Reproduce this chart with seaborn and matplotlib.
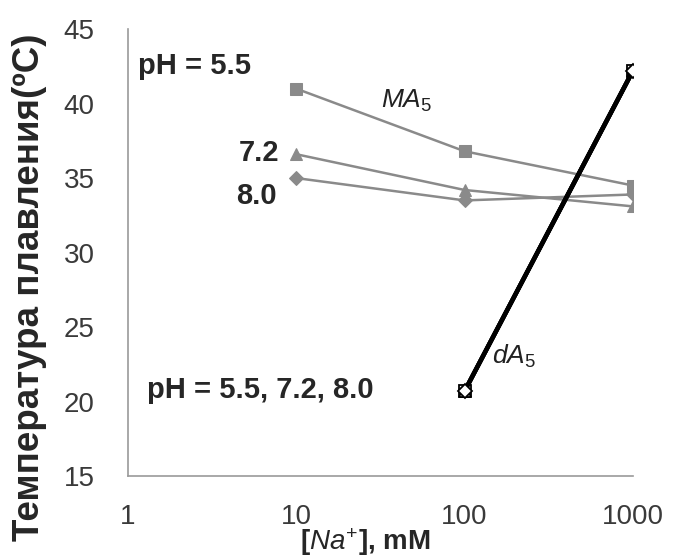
import numpy as np
import pandas as pd
import matplotlib
matplotlib.use("Agg")
import matplotlib.pyplot as plt
import seaborn as sns

# --- Data ---
na_conc = [10, 100, 1000]
ma5_ph55 = [41.0, 36.8, 34.5]
ma5_ph72 = [36.6, 34.2, 33.1]
ma5_ph80 = [35.0, 33.5, 33.9]

da5_conc = [100, 1000]
da5_ph55 = [20.7, 42.2]
da5_ph72 = [20.7, 42.2]
da5_ph80 = [20.7, 42.2]

x_ticks = [1, 10, 100, 1000]
x_ticklabels = ["1", "10", "100", "1000"]
y_ticks = [15, 20, 25, 30, 35, 40, 45]

# --- Style ---
sns.set_style("white")
plt.rcParams["font.family"] = ["Liberation Sans", "DejaVu Sans"]
plt.rcParams["mathtext.fontset"] = "custom"
plt.rcParams["mathtext.rm"] = "Liberation Sans"
plt.rcParams["mathtext.it"] = "Liberation Sans:italic"
plt.rcParams["mathtext.bf"] = "Liberation Sans:bold"

GRAY = "#8a8a8a"
AXCOL = "#9a9a9a"

fig = plt.figure(figsize=(6.74, 5.6), dpi=100)
ax = fig.add_axes([0.19, 0.15, 0.749, 0.798])

ma = pd.DataFrame({
    "Na": na_conc * 3,
    "Tm": ma5_ph55 + ma5_ph72 + ma5_ph80,
    "pH": ["5.5"] * 3 + ["7.2"] * 3 + ["8.0"] * 3,
})
da = pd.DataFrame({
    "Na": da5_conc * 3,
    "Tm": da5_ph55 + da5_ph72 + da5_ph80,
    "pH": ["5.5"] * 2 + ["7.2"] * 2 + ["8.0"] * 2,
})

markers = {"5.5": "s", "7.2": "^", "8.0": "D"}
msize = {"5.5": 9, "7.2": 9, "8.0": 7}

for ph, grp in ma.groupby("pH"):
    sns.lineplot(data=grp, x="Na", y="Tm", ax=ax, color=GRAY, lw=1.8,
                 marker=markers[ph], markersize=msize[ph],
                 markeredgecolor=GRAY, markerfacecolor=GRAY)

for ph, grp in da.groupby("pH"):
    sns.lineplot(data=grp, x="Na", y="Tm", ax=ax, color="black", lw=3.2,
                 marker=markers[ph], markersize=msize[ph],
                 markeredgecolor="black", markerfacecolor="white",
                 markeredgewidth=1.3)

ax.set_xscale("log")
ax.set_xlim(1, 1000)
ax.set_ylim(15, 45)
ax.set_xticks(x_ticks)
ax.set_xticklabels(x_ticklabels)
ax.minorticks_off()
ax.set_yticks(y_ticks)

for s in ["top", "right"]:
    ax.spines[s].set_visible(False)
for s in ["left", "bottom"]:
    ax.spines[s].set_color(AXCOL)
    ax.spines[s].set_linewidth(1.2)

ax.tick_params(axis="both", direction="out", length=8, width=1.2,
               color=AXCOL, labelsize=20, labelcolor="#3a3a3a")
ax.tick_params(axis="y", pad=16)
ax.tick_params(axis="x", pad=12)

ax.set_ylabel("Температура плавления(ºC)", fontsize=26.5, fontweight="bold")
ax.yaxis.set_label_coords(-0.16, 0.423)
ax.set_xlabel(r"[$\mathit{Na}^{+}$], mM", fontsize=20, fontweight="bold")
ax.xaxis.set_label_coords(0.47, -0.113)

# --- Annotations ---
ax.text(1.14, 42.5, "pH = 5.5", fontsize=21, fontweight="bold", va="center", ha="left")
ax.text(7.9, 36.7, "7.2", fontsize=21, fontweight="bold", va="center", ha="right")
ax.text(7.7, 33.8, "8.0", fontsize=21, fontweight="bold", va="center", ha="right")
ax.text(32, 40.2, r"$MA_{5}$", fontsize=19, va="center", ha="left", color="#222222")
ax.text(145, 23.0, r"$dA_{5}$", fontsize=19, va="center", ha="left", color="#222222")
ax.text(1.29, 20.8, "pH = 5.5, 7.2, 8.0", fontsize=21, fontweight="bold", va="center", ha="left")

fig.savefig("out.png", dpi=100)
